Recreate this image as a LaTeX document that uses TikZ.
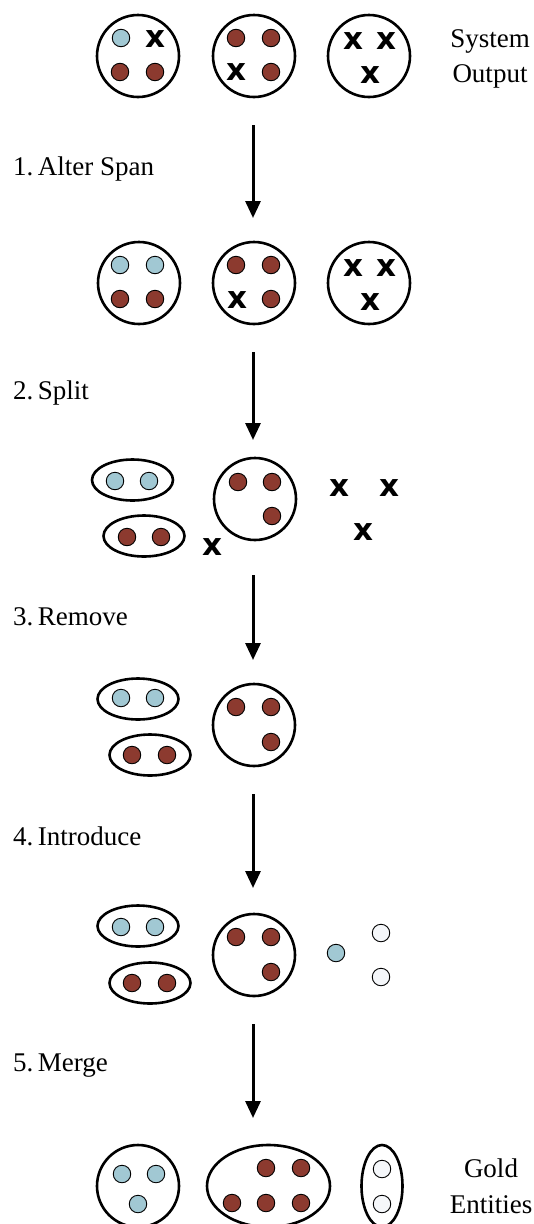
\documentclass[tikz,border=0pt]{standalone}
\usepackage{fontspec}
\setmainfont{Liberation Serif}
\newfontfamily\markfont{DejaVu Sans}
\usetikzlibrary{shapes.geometric,arrows.meta}

\definecolor{entblue}{RGB}{161,200,211}
\definecolor{entred}{RGB}{140,58,47}
\definecolor{entwhite}{RGB}{245,247,250}

\tikzset{
  cluster/.style={circle,draw,line width=2.6pt,minimum size=82,inner sep=0},
  pairs/.style={ellipse,draw,line width=2.6pt,minimum width=81,minimum height=41,inner sep=0},
  mdot/.style={circle,draw,line width=0.9pt,minimum size=17.5,inner sep=0},
  bdot/.style={mdot,fill=entblue},
  rdot/.style={mdot,fill=entred},
  wdot/.style={mdot,fill=entwhite},
  xmark/.style={inner sep=0,font=\markfont\bfseries\fontsize{31}{31}\selectfont},
  stepflow/.style={line width=3pt,-{Triangle[length=17,width=15]}},
  steplabel/.style={anchor=base west,inner sep=0,font=\fontsize{27}{27}\selectfont},
  sidelabel/.style={anchor=base,inner sep=0,font=\fontsize{27}{27}\selectfont}
}

\begin{document}
\begin{tikzpicture}[x=1pt,y=-1pt]
            \useasboundingbox (0,0) rectangle (533,1224);

            % system output
            \node[cluster] (c11) at (138,56) {};
            \node[cluster] (c12) at (254,56) {};
            \node[cluster] (c13) at (369,56) {};
            \node[bdot] (b11) at (121,38) {};
            \foreach \x [count=\i] in {{120,72},{155,72},{236,38},{271,38},{271,72}}
              \node[rdot] (r1\i) at (\x) {};
            \foreach \x [count=\i] in {{155,39},{236,72},{353,41},{386,41},{370,75}}
              \node[xmark] (x1\i) at (\x) {x};
            \node[sidelabel] (sys1) at (490,47) {System};
            \node[sidelabel] (sys2) at (490,82) {Output};

            % 1. alter span
            \coordinate (a1s) at (253,125);
            \coordinate (a1e) at (253,218);
            \draw[stepflow] (a1s) -- (a1e);
            \node[steplabel] (l1) at (13,175) {1.\,Alter Span};

            \node[cluster] (c21) at (139,283) {};
            \node[cluster] (c22) at (254,283) {};
            \node[cluster] (c23) at (369,283) {};
            \foreach \x [count=\i] in {{120,265},{155,265}}
              \node[bdot] (b2\i) at (\x) {};
            \foreach \x [count=\i] in {{120,299},{155,299},{236,265},{271,265},{271,299}}
              \node[rdot] (r2\i) at (\x) {};
            \foreach \x [count=\i] in {{237,300},{353,268},{386,268},{370,302}}
              \node[xmark] (x2\i) at (\x) {x};

            % 2. split
            \coordinate (a2s) at (253,352);
            \coordinate (a2e) at (253,440);
            \draw[stepflow] (a2s) -- (a2e);
            \node[steplabel] (l2) at (13,399) {2.\,Split};

            \node[pairs] (p31) at (132.5,480) {};
            \node[pairs] (p32) at (144,536) {};
            \node[cluster] (c31) at (255,499) {};
            \foreach \x [count=\i] in {{115,481},{149,481}}
              \node[bdot] (b3\i) at (\x) {};
            \foreach \x [count=\i] in {{127,537},{161,537},{238,482},{272,482},{272,516}}
              \node[rdot] (r3\i) at (\x) {};
            \foreach \x [count=\i] in {{212,547},{339,488},{389,488},{363,532}}
              \node[xmark] (x3\i) at (\x) {x};

            % 3. remove
            \coordinate (a3s) at (253,575);
            \coordinate (a3e) at (253,660);
            \draw[stepflow] (a3s) -- (a3e);
            \node[steplabel] (l3) at (13,625) {3.\,Remove};

            \node[pairs] (p41) at (138,699) {};
            \node[pairs] (p42) at (150,755) {};
            \node[cluster] (c41) at (254,725) {};
            \foreach \x [count=\i] in {{121,698},{155,698}}
              \node[bdot] (b4\i) at (\x) {};
            \foreach \x [count=\i] in {{132,755},{167,755},{236,707},{271,707},{271,742}}
              \node[rdot] (r4\i) at (\x) {};

            % 4. introduce
            \coordinate (a4s) at (253,794);
            \coordinate (a4e) at (253,888);
            \draw[stepflow] (a4s) -- (a4e);
            \node[steplabel] (l4) at (13,845) {4.\,Introduce};

            \node[pairs] (p51) at (138,926) {};
            \node[pairs] (p52) at (150,983) {};
            \node[cluster] (c51) at (254,955) {};
            \foreach \x [count=\i] in {{121,927},{155,927},{336,953}}
              \node[bdot] (b5\i) at (\x) {};
            \foreach \x [count=\i] in {{132,983},{167,983},{236,937},{271,937},{271,972}}
              \node[rdot] (r5\i) at (\x) {};
            \foreach \x [count=\i] in {{381,933},{381,977}}
              \node[wdot] (w5\i) at (\x) {};

            % 5. merge
            \coordinate (a5s) at (253,1024);
            \coordinate (a5e) at (253,1118);
            \draw[stepflow] (a5s) -- (a5e);
            \node[steplabel] (l5) at (13,1071) {5.\,Merge};

            % gold entities
            \node[cluster] (c61) at (138,1186) {};
            \node[pairs,minimum width=123,minimum height=82] (p62) at (268.5,1186) {};
            \node[pairs,minimum width=41,minimum height=82] (p63) at (382,1186) {};
            \foreach \x [count=\i] in {{122,1174},{156,1174},{138,1204}}
              \node[bdot] (b6\i) at (\x) {};
            \foreach \x [count=\i] in {{266,1168},{301,1168},{232,1203},{266,1203},{301,1203}}
              \node[rdot] (r6\i) at (\x) {};
            \foreach \x [count=\i] in {{382,1169},{382,1204}}
              \node[wdot] (w6\i) at (\x) {};
            \node[sidelabel] (gold1) at (491,1177) {Gold};
            \node[sidelabel] (gold2) at (491,1213) {Entities};
\end{tikzpicture}
\end{document}
